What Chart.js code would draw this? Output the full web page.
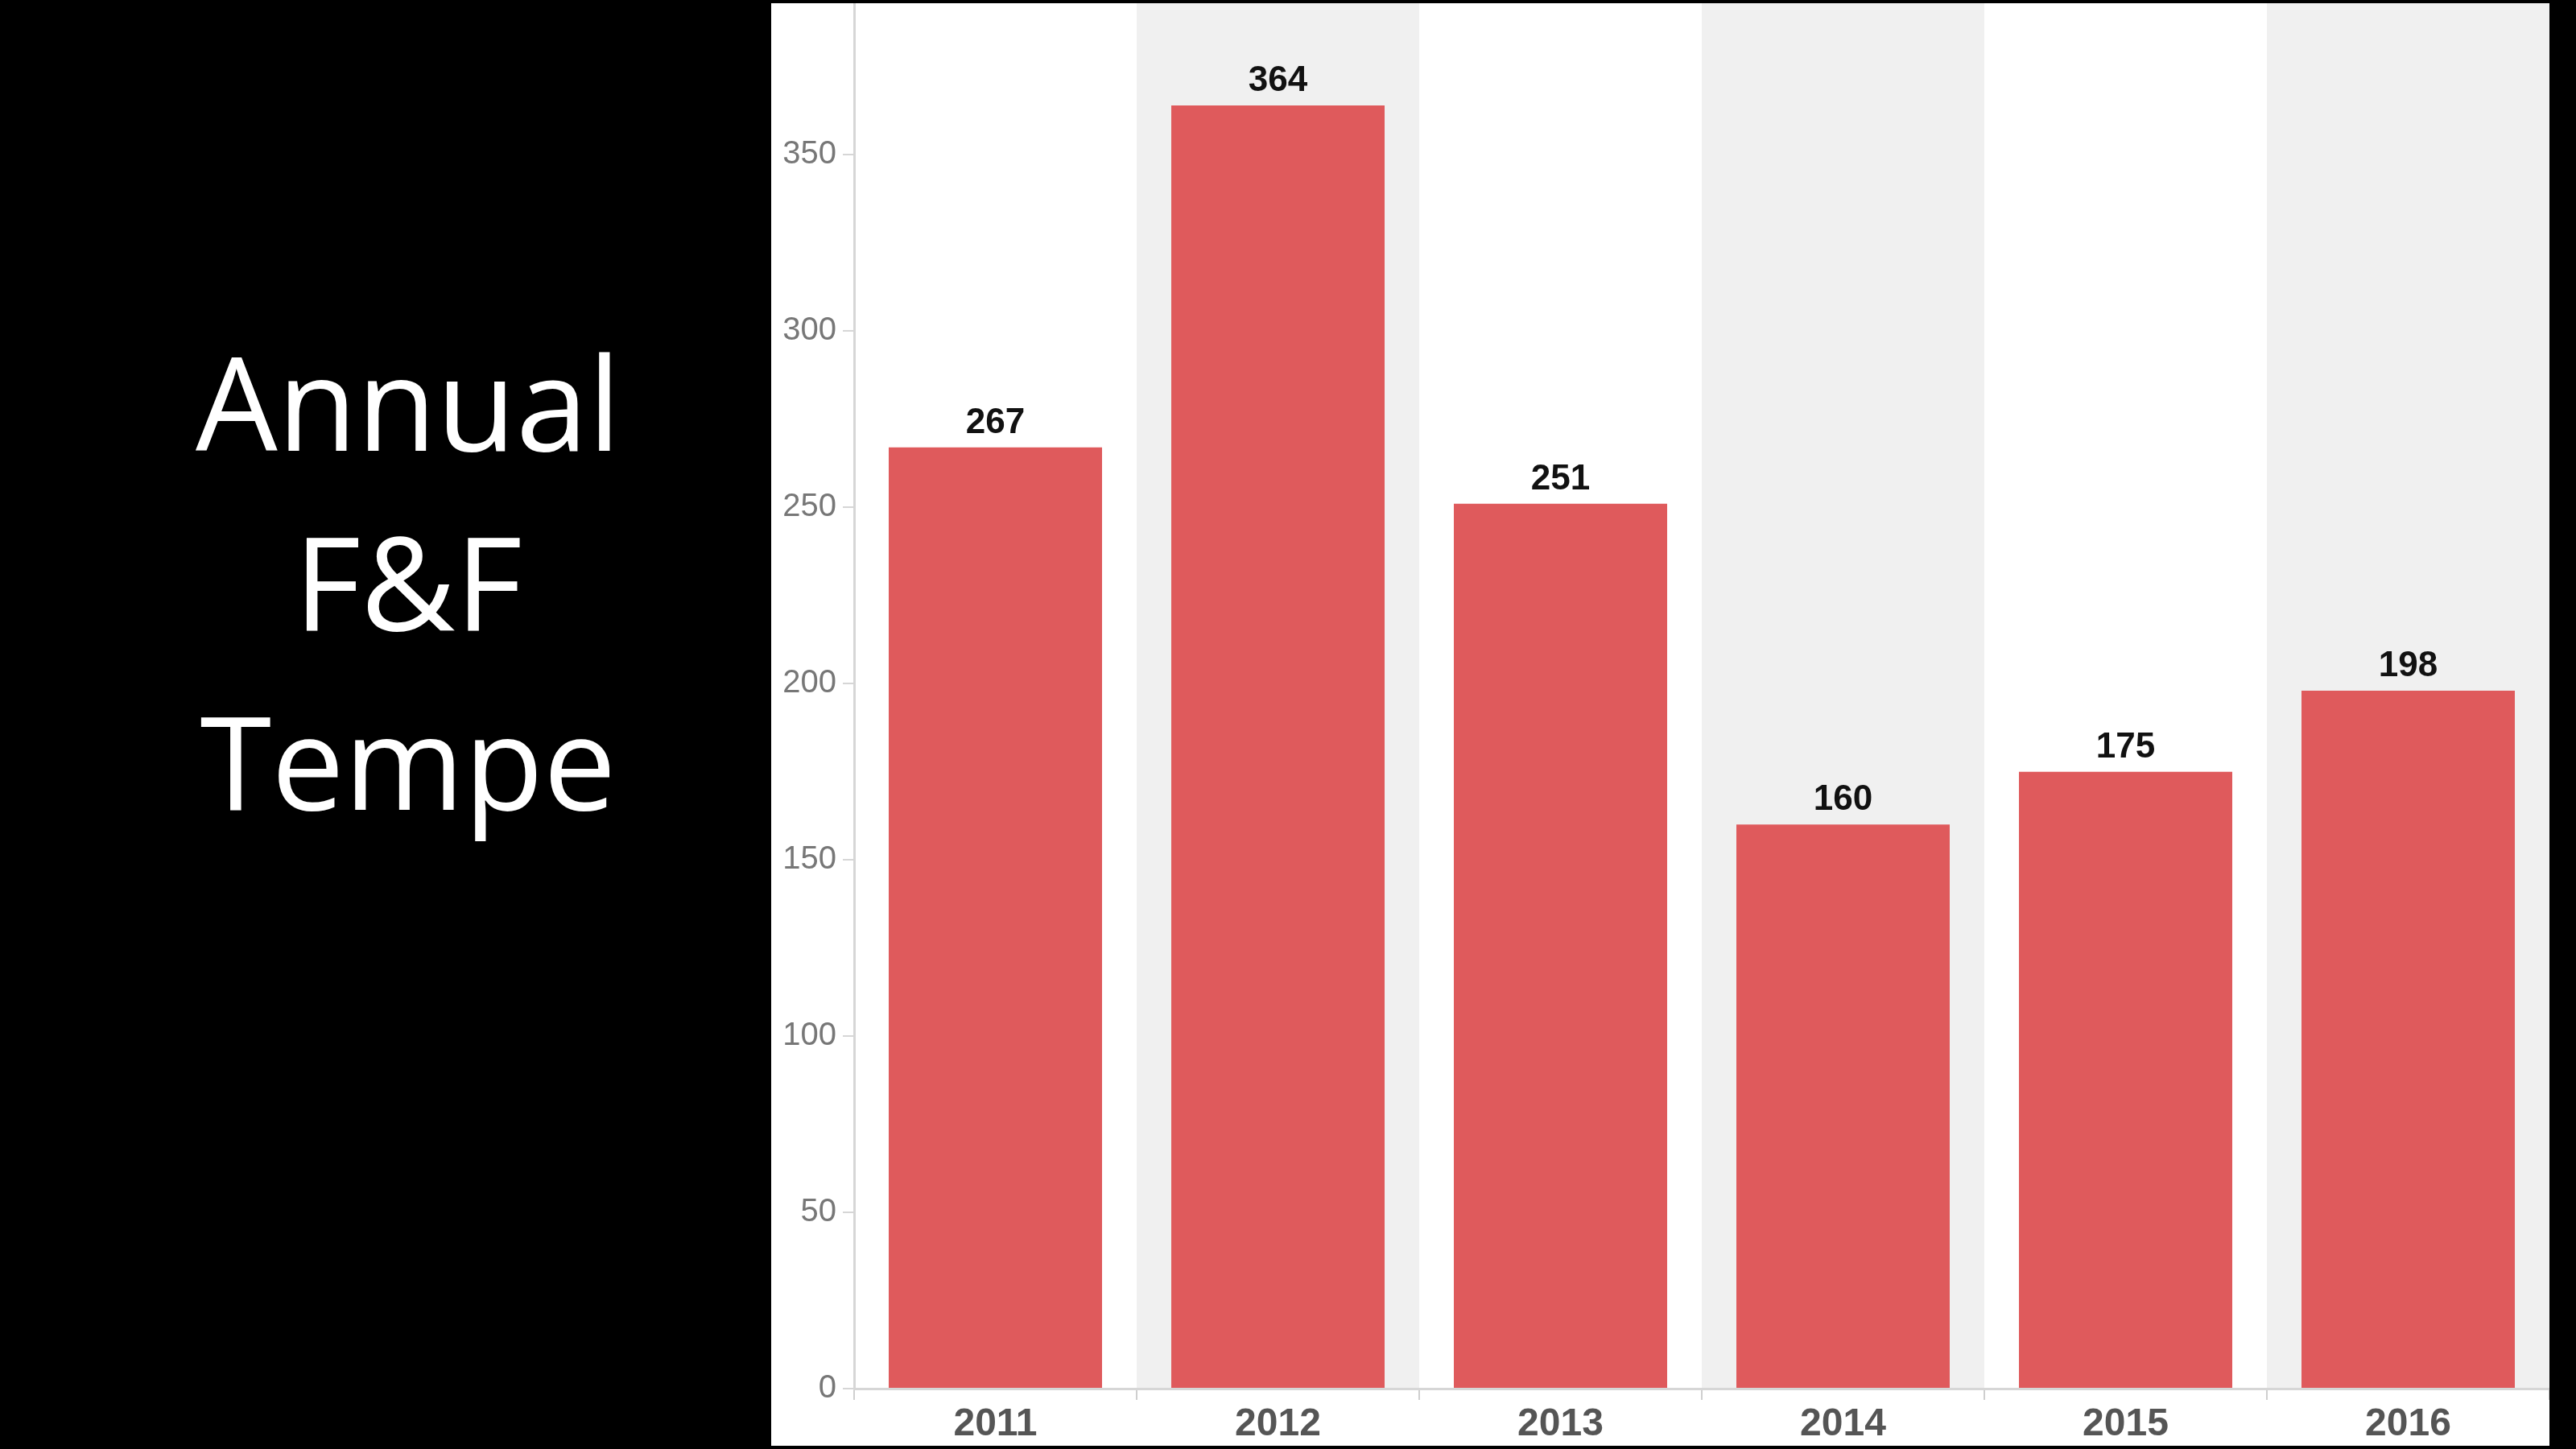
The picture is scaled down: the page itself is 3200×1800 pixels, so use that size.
<!DOCTYPE html>
<html lang="en">
<head>
  <meta charset="UTF-8" />
  <title>Annual F&amp;F Tempe</title>
  <script src="https://cdn.jsdelivr.net/npm/chart.js"></script>
  <style>
    html, body {
      margin: 0;
      padding: 0;
      background: #000;
      width: 3200px;
      height: 1800px;
      overflow: hidden;
    }

    .title {
      position: absolute;
      left: 0;
      top: 386px;
      width: 1014px;
      text-align: center;
      color: #fff;
      font-family: 'Open Sans', sans-serif;
      font-size: 161px;
      line-height: 223px;
    }

    .chart-box {
      position: absolute;
      left: 958px;
      top: 4px;
      width: 2209px;
      height: 1792px;
      background: #fff;
    }
  </style>
</head>
<body>
  <div class="title">Annual<br>F&amp;F<br>Tempe</div>

  <div class="chart-box">
    <canvas id="ffChart"></canvas>
  </div>

  <script>
    const years = ["2011", "2012", "2013", "2014", "2015", "2016"];
    const counts = [267, 364, 251, 160, 175, 198];
    const yTicks = [0, 50, 100, 150, 200, 250, 300, 350];

    // grey band behind every second year
    const bands = {
      id: "bands",
      beforeDraw(chart) {
        const { ctx, chartArea, scales } = chart;
        const half = (scales.x.getPixelForValue(1) - scales.x.getPixelForValue(0)) / 2;
        ctx.save();
        ctx.fillStyle = "#f0f0f0";
        years.forEach((y, i) => {
          if (i % 2 === 1) {
            const cx = scales.x.getPixelForValue(i);
            ctx.fillRect(cx - half, 0, half * 2, chartArea.bottom);
          }
        });
        ctx.restore();
      }
    };

    // value on top of each bar
    const barValues = {
      id: "barValues",
      afterDatasetsDraw(chart) {
        const { ctx } = chart;
        const meta = chart.getDatasetMeta(0);
        ctx.save();
        ctx.font = "bold 44px 'Liberation Sans', Arial, sans-serif";
        ctx.fillStyle = "#111";
        ctx.textAlign = "center";
        ctx.textBaseline = "alphabetic";
        meta.data.forEach((bar, i) => {
          ctx.fillText(String(counts[i]), bar.x, bar.y - 18);
        });
        ctx.restore();
      }
    };

    new Chart(document.getElementById("ffChart"), {
      type: "bar",
      data: {
        labels: years,
        datasets: [{
          data: counts,
          backgroundColor: "#df5a5c",
          categoryPercentage: 1,
          barPercentage: 0.755
        }]
      },
      options: {
        responsive: true,
        maintainAspectRatio: false,
        animation: false,
        layout: { padding: 0 },
        plugins: {
          legend: { display: false },
          tooltip: { enabled: false }
        },
        scales: {
          x: {
            afterFit(scale) {
              scale.height = 71;
              scale.paddingLeft = 0;
              scale.paddingRight = 0;
            },
            border: { color: "#d6d6d6", width: 3 },
            grid: {
              offset: true,
              drawOnChartArea: false,
              tickLength: 14,
              color: "#cfcfcf",
              lineWidth: 2
            },
            ticks: {
              padding: 2,
              color: "#555",
              font: { family: "'Liberation Sans', Arial, sans-serif", size: 48, weight: "bold" }
            }
          },
          y: {
            min: 0,
            max: 393,
            afterFit(scale) {
              scale.width = 103;
              scale.paddingTop = 0;
              scale.paddingBottom = 0;
            },
            afterBuildTicks(scale) {
              scale.ticks = yTicks.map(v => ({ value: v }));
            },
            border: { color: "#d6d6d6", width: 3 },
            grid: {
              drawOnChartArea: false,
              tickLength: 14,
              color: "#d6d6d6",
              lineWidth: 2
            },
            ticks: {
              padding: 8,
              color: "#777",
              font: { family: "'Liberation Sans', Arial, sans-serif", size: 40 }
            }
          }
        }
      },
      plugins: [bands, barValues]
    });
  </script>
</body>
</html>
